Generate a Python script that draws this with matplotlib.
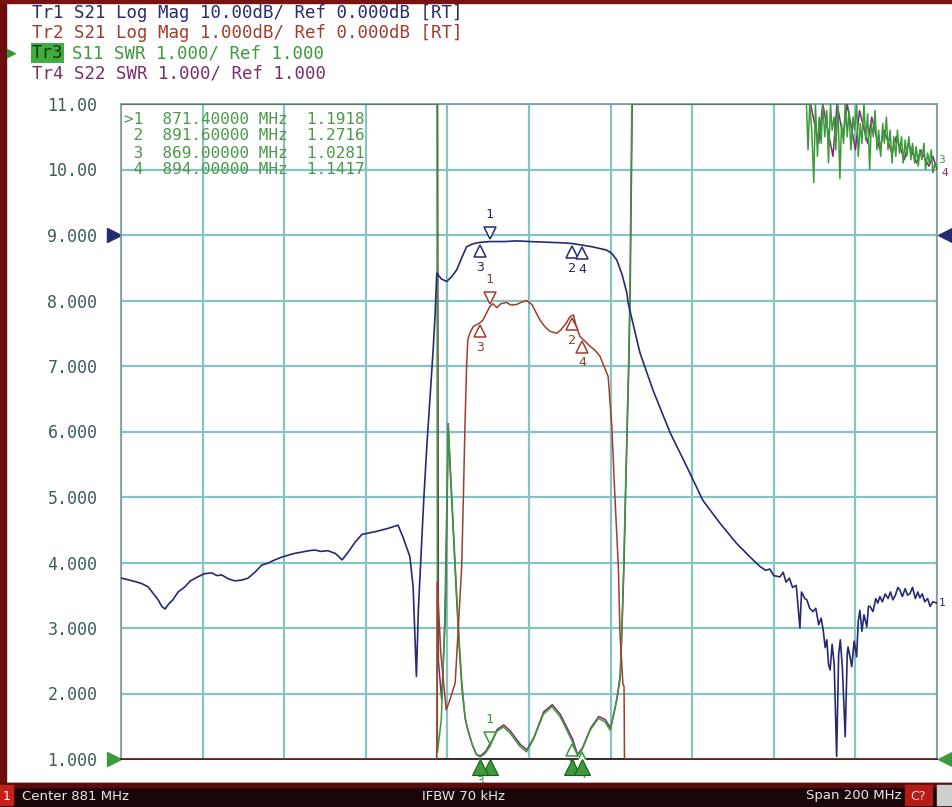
import numpy as np
import matplotlib
matplotlib.use("Agg")
import matplotlib.pyplot as plt
from matplotlib.patches import Rectangle
import matplotlib.transforms as mtransforms

# Stimulus (Center 881 MHz, Span 200 MHz)
f_start, f_stop = 781.0, 981.0

# Tr1 S21 Log Mag, 10 dB/div, Ref 0 dB (ref line at division 9)
tr1_f = [781.2, 782.5, 784.4, 786.0, 787.6, 789.0, 790.1, 791.0, 791.8, 792.6,
         793.7, 795.0, 796.7, 798.0, 799.8, 801.5, 803.3, 804.5, 805.7, 807.3,
         808.9, 810.5, 812.1, 813.8, 815.5, 817.0, 818.7, 820.3, 821.9, 823.6,
         825.4, 827.0, 828.5, 830.0, 831.7, 833.5, 835.2, 836.7, 838.5, 840.1,
         843.3, 846.4, 848.9, 850.1, 851.8, 852.6, 853.4, 853.9, 854.4, 855.2,
         855.9, 856.7, 857.5, 858.0, 858.4, 859.5, 860.8, 862.0, 863.3, 864.5,
         865.7, 867.0, 868.2, 869.5, 871.4, 875.0, 878.0, 881.2, 885.0, 889.3,
         891.6, 893.5, 896.5, 900.0, 901.3, 902.5, 903.8, 905.0, 905.3, 908.2,
         911.4, 915.6, 919.7, 923.6, 927.8, 931.9, 935.9, 937.6, 939.0, 940.0,
         941.0, 942.5, 943.3, 944.0, 944.8, 945.6, 946.5, 947.4, 947.8, 948.6,
         949.1, 949.8, 950.6, 951.3, 952.0, 952.6, 953.1, 953.6, 954.0, 954.4,
         954.8, 955.3, 955.8, 956.4, 956.9, 957.3, 957.8, 958.5, 959.0, 959.2,
         959.7, 960.1, 960.7, 961.3, 961.7, 962.1, 962.6, 963.1, 963.8, 964.2,
         964.6, 965.3, 966.0, 966.5, 967.0, 967.6, 968.3, 969.0, 969.6, 970.2,
         970.8, 971.4, 971.9, 972.5, 973.2, 973.8, 974.4, 975.0, 975.7, 976.3,
         976.8, 977.4, 978.0, 978.7, 979.3, 980.0, 981.0]
tr1_db = [-52.4, -52.6, -52.9, -53.2, -53.7, -54.8, -55.7, -56.7, -57.1, -56.4,
          -55.7, -54.5, -53.7, -52.8, -52.2, -51.7, -51.6, -52.0, -51.9, -52.5,
          -52.8, -52.7, -52.4, -51.5, -50.4, -50.1, -49.6, -49.2, -48.9, -48.6,
          -48.4, -48.2, -48.1, -48.3, -48.2, -48.6, -49.6, -48.4, -46.8, -45.7,
          -45.3, -44.8, -44.3, -46.1, -49.1, -53.7, -67.4, -57.0, -50.6, -40.5,
          -32.8, -25.2, -17.6, -12.0, -5.8, -6.7, -7.1, -6.4, -5.3, -3.5,
          -1.8, -1.4, -1.2, -1.1, -1.0, -1.0, -0.9, -1.0, -1.1, -1.2,
          -1.3, -1.5, -1.8, -2.3, -2.8, -3.8, -6.0, -8.9, -10.4, -18.0,
          -23.7, -30.2, -35.4, -40.5, -44.0, -47.1, -49.6, -50.6, -51.2, -51.0,
          -52.0, -52.2, -51.5, -53.0, -52.4, -53.8, -53.5, -60.0, -54.5, -55.5,
          -55.7, -57.0, -57.5, -57.0, -59.5, -58.5, -60.3, -63.0, -61.8, -65.5,
          -66.4, -62.5, -65.5, -79.6, -64.0, -61.8, -66.0, -76.6, -64.0, -62.9,
          -64.5, -65.9, -62.0, -64.4, -59.0, -57.3, -60.5, -58.0, -59.8, -56.7,
          -56.7, -57.5, -55.5, -56.2, -55.2, -56.0, -54.8, -55.5, -54.5, -55.7,
          -55.0, -53.8, -54.2, -55.2, -54.0, -55.0, -54.7, -53.8, -55.5, -54.5,
          -55.4, -54.8, -56.0, -55.5, -56.7, -56.0, -56.2]

# Tr2 S21 Log Mag, 1 dB/div, Ref 0 dB (ref line at division 9)
tr2_f = [781.0, 858.4, 858.5, 859.4, 860.7, 861.6, 862.9, 863.6, 864.5, 864.9,
         865.3, 865.7, 866.0, 866.5, 867.3, 869.0, 869.7, 870.6, 871.4, 872.2,
         873.1, 874.1, 875.5, 876.6, 878.0, 879.0, 880.4, 881.7, 882.7, 883.7,
         884.9, 886.1, 887.8, 888.8, 890.2, 891.0, 891.9, 892.5, 893.5, 894.7,
         896.0, 897.2, 898.4, 899.1, 900.4, 901.3, 902.1, 902.9, 903.3, 904.0,
         904.3, 904.4, 981.0]
tr2_db = [-8.0, -8.0, -5.3, -6.4, -7.25, -7.1, -6.84, -6.08, -5.06, -4.05,
          -2.93, -2.01, -1.60, -1.50, -1.40, -1.34, -1.30, -1.19, -1.09, -1.05,
          -1.11, -1.05, -1.03, -1.07, -1.06, -1.03, -1.00, -1.06, -1.18, -1.30,
          -1.40, -1.47, -1.50, -1.45, -1.34, -1.25, -1.22, -1.38, -1.55, -1.62,
          -1.70, -1.76, -1.85, -1.96, -2.16, -2.93, -4.05, -5.06, -6.08, -6.84,
          -6.90, -8.0, -8.0]

# Tr3 S11 SWR, 1.000/div, Ref 1.000 (bottom line)
tr3_f = [781.0, 858.45, 858.55, 859.5, 860.3, 860.9, 861.2, 861.6, 862.4, 863.2,
         863.9, 864.5, 865.3, 866.0, 867.0, 868.0, 869.0, 870.2, 871.4, 873.1,
         874.7, 876.3, 878.8, 880.4, 882.1, 884.5, 886.6, 888.6, 890.2, 891.6,
         892.8, 894.0, 896.0, 898.0, 899.6, 900.9, 902.0, 902.5, 903.3, 903.7,
         904.2, 904.6, 905.0, 905.4, 905.7, 906.2, 949.0, 949.4, 949.8, 950.3,
         950.8, 951.2, 951.7, 952.1, 952.6, 953.0, 953.5, 954.0, 954.4, 954.9,
         955.3, 955.8, 956.2, 956.7, 957.2, 957.6, 958.1, 958.5, 959.0, 959.4,
         959.9, 960.4, 960.8, 961.3, 961.7, 962.2, 962.6, 963.1, 963.5, 964.0,
         964.5, 964.9, 965.4, 965.8, 966.3, 966.7, 967.2, 967.7, 968.1, 968.6,
         969.0, 969.5, 970.0, 970.4, 970.9, 971.3, 971.8, 972.3, 972.7, 973.2,
         973.6, 974.1, 974.6, 975.0, 975.5, 975.9, 976.4, 976.8, 977.3, 977.8,
         978.2, 978.7, 979.1, 979.6, 980.0, 980.5, 981.0]
tr3_swr = [11.0, 11.0, 1.1, 1.6, 3.0, 5.0, 6.1, 5.6, 4.6, 3.6,
           2.8, 2.2, 1.65, 1.45, 1.24, 1.08, 1.03, 1.08, 1.19, 1.42,
           1.49, 1.40, 1.19, 1.11, 1.30, 1.68, 1.80, 1.65, 1.45, 1.27,
           1.04, 1.14, 1.44, 1.62, 1.57, 1.44, 1.75, 1.90, 2.2, 2.9,
           3.9, 5.0, 6.0, 7.0, 8.0, 11.0, 11.0, 10.3, 11.0, 10.6,
           9.8, 11.0, 10.2, 10.8, 10.4, 11.0, 10.5, 10.9, 10.1, 11.0,
           10.6, 10.8, 10.3, 11.0, 9.86, 10.7, 10.4, 11.0, 10.5, 10.9,
           10.3, 10.8, 10.6, 11.0, 10.2, 10.7, 10.4, 11.0, 10.45, 10.85,
           10.0, 10.7, 10.5, 10.9, 10.3, 10.6, 10.2, 10.7, 10.4, 10.8,
           10.3, 10.6, 10.1, 10.5, 10.2, 10.6, 10.25, 10.5, 10.1, 10.45,
           10.2, 10.5, 10.15, 10.4, 10.1, 10.35, 10.05, 10.3, 10.15, 10.4,
           10.0, 10.25, 10.1, 10.3, 9.95, 10.1, 10.05]

# Tr4 S22 SWR, 1.000/div, Ref 1.000
tr4_f = [781.0, 858.6, 858.8, 859.6, 860.5, 861.0, 861.2, 861.7, 862.5, 863.3,
         864.0, 864.6, 865.4, 866.2, 867.2, 868.2, 869.2, 870.4, 871.6, 873.2,
         874.8, 876.4, 878.9, 880.5, 882.2, 884.6, 886.7, 888.7, 890.3, 891.7,
         892.9, 894.1, 896.1, 898.1, 899.7, 901.0, 902.1, 902.6, 903.4, 903.8,
         904.3, 904.7, 905.1, 905.5, 905.8, 906.3, 950.0, 952.0, 953.0, 955.5,
         956.5, 958.0, 959.0, 961.0, 962.0, 964.0, 965.0, 967.0, 968.0, 970.0,
         971.0, 973.0, 974.0, 976.0, 977.0, 979.0, 980.0, 981.0]
tr4_swr = [11.0, 11.0, 2.5, 1.9, 3.2, 5.2, 6.12, 5.4, 4.4, 3.4,
           2.6, 2.05, 1.6, 1.4, 1.2, 1.06, 1.05, 1.12, 1.25, 1.45,
           1.52, 1.43, 1.22, 1.14, 1.33, 1.72, 1.83, 1.68, 1.48, 1.30,
           1.07, 1.17, 1.47, 1.65, 1.60, 1.47, 1.78, 1.95, 2.3, 3.0,
           4.0, 5.1, 6.1, 7.1, 8.1, 11.0, 11.0, 10.4, 11.0, 10.2,
           11.0, 10.5, 11.0, 10.3, 10.9, 10.4, 10.8, 10.3, 10.6, 10.25,
           10.5, 10.15, 10.4, 10.1, 10.3, 10.05, 10.2, 10.0]

# markers (Tr3 active)
mk_num = ["1", "2", "3", "4"]
mk_f = [871.4, 891.6, 869.0, 894.0]
mk_swr = [1.1918, 1.2716, 1.0281, 1.1417]

y_ticks = [1, 2, 3, 4, 5, 6, 7, 8, 9, 10, 11]
y_labels = ["1.000", "2.000", "3.000", "4.000", "5.000", "6.000",
            "7.000", "8.000", "9.000", "10.00", "11.00"]

c_tr1 = "#262a72"
c_tr2 = "#a23c2c"
c_tr3 = "#3c9a3c"
c_tr4 = "#7c2e6c"
c_grid = "#86c4c4"
c_lbl = "#3e5c5c"
mono = "DejaVu Sans Mono"


def to_div(vals, ref_pos, ref_val, scale):
    d = ref_pos + (np.asarray(vals, dtype=float) - ref_val) / scale
    return np.clip(d, 1.0, 11.0)


d1 = to_div(tr1_db, 9, 0.0, 10.0)
d2 = to_div(tr2_db, 9, 0.0, 1.0)
d3 = to_div(tr3_swr, 1, 1.0, 1.0)
d4 = to_div(tr4_swr, 1, 1.0, 1.0)

W, H = 952, 807
fig = plt.figure(figsize=(W / 100, H / 100), dpi=100)
fig.patch.set_facecolor("white")
ax = fig.add_axes([121 / W, 1 - 759 / H, 816 / W, 655 / H])
ax.set_xlim(f_start, f_stop)
ax.set_ylim(1, 11)

ax.set_xticks(np.linspace(f_start, f_stop, 11))
ax.set_xticklabels([])
ax.set_yticks(y_ticks)
ax.set_yticklabels(y_labels, family=mono, fontsize=12, color=c_lbl)
ax.tick_params(length=0, pad=17)
ax.grid(True, color=c_grid, lw=1.6)
ax.set_axisbelow(True)
for s in ["left", "right", "top"]:
    ax.spines[s].set_color("#7a9a9a")
    ax.spines[s].set_linewidth(1.2)
ax.spines["bottom"].set_color("#3a2828")
ax.spines["bottom"].set_linewidth(1.4)

ax.plot(tr4_f, d4, color=c_tr4, lw=1.1, zorder=3)
ax.plot(tr3_f, d3, color=c_tr3, lw=1.1, zorder=3)
ax.plot(tr2_f, d2, color=c_tr2, lw=1.1, zorder=4)
ax.plot(tr1_f, d1, color=c_tr1, lw=1.2, zorder=5)

# markers on the traces
up = mtransforms.ScaledTranslation(0, 6 / 72, fig.dpi_scale_trans)
down = mtransforms.ScaledTranslation(0, -6 / 72, fig.dpi_scale_trans)
for f_list, d_vals, col in [(tr1_f, d1, c_tr1), (tr2_f, d2, c_tr2), (tr3_f, d3, c_tr3)]:
    for num, fm in zip(mk_num, mk_f):
        yv = np.interp(fm, f_list, d_vals)
        if num == "1":
            ax.plot(fm, yv, marker="v", ms=9, mfc="white", mec=col, mew=1.1,
                    zorder=6, transform=ax.transData + up)
            ax.annotate(num, (fm, yv), xytext=(0, 15), textcoords="offset points",
                        ha="center", va="bottom", fontsize=9.5, family=mono, color=col, zorder=6)
        else:
            ax.plot(fm, yv, marker="^", ms=9, mfc="white", mec=col, mew=1.1,
                    zorder=6, transform=ax.transData + down)
            ax.annotate(num, (fm, yv), xytext=(0, -13), textcoords="offset points",
                        ha="center", va="top", fontsize=9.5, family=mono, color=col, zorder=6)

# active-trace stimulus markers under the graticule
bx = mtransforms.blended_transform_factory(ax.transData, ax.transAxes)
for fm in mk_f:
    ax.plot(fm, -0.012, marker="^", ms=11, color=c_tr3, mec="#1e5a1e", mew=0.8,
            transform=bx, clip_on=False, zorder=7)

# reference position arrows
by = mtransforms.blended_transform_factory(ax.transAxes, ax.transData)
ax.plot(-0.008, 9, marker=">", ms=10, color=c_tr1, transform=by, clip_on=False)
ax.plot(1.010, 9, marker="<", ms=10, color=c_tr1, transform=by, clip_on=False)
ax.plot(-0.008, 1, marker=">", ms=10, color=c_tr3, transform=by, clip_on=False)
ax.plot(1.010, 1, marker="<", ms=10, color=c_tr3, transform=by, clip_on=False)

# trace-end numbers at the right edge
ax.text(1.002, d1[-1], "1", transform=by, fontsize=8, family=mono, color=c_tr1, va="center")
ax.text(1.002, d3[-1] + 0.1, "3", transform=by, fontsize=8, family=mono, color=c_tr3, va="center")
ax.text(1.006, d3[-1] - 0.1, "4", transform=by, fontsize=8, family=mono, color=c_tr4, va="center")

# marker table
for i, (num, fm, sv) in enumerate(zip(mk_num, mk_f, mk_swr)):
    pre = ">" if i == 0 else " "
    fig.text(124 / W, 1 - (119 + 17 * i) / H,
             f"{pre}{num}  {fm:9.5f} MHz  {sv:.4f}",
             family=mono, fontsize=11.5, color="#4a9a4a", va="center", zorder=10)

# trace header lines
hx = 32 / W
hy = [13, 33, 53, 73]
fig.text(hx, 1 - hy[0] / H, "Tr1 S21 Log Mag 10.00dB/ Ref 0.000dB [RT]",
         family=mono, fontsize=12.5, color=c_tr1, va="center")
fig.text(hx, 1 - hy[1] / H, "Tr2 S21 Log Mag 1.000dB/ Ref 0.000dB [RT]",
         family=mono, fontsize=12.5, color=c_tr2, va="center")
fig.text(hx, 1 - hy[2] / H, "Tr3",
         family=mono, fontsize=12.5, color="#12380f", va="center",
         bbox=dict(boxstyle="square,pad=0.05", fc="#3fae3f", ec="none"))
fig.text(hx + 40 / W, 1 - hy[2] / H, "S11 SWR 1.000/ Ref 1.000",
         family=mono, fontsize=12.5, color=c_tr3, va="center")
fig.text(hx, 1 - hy[3] / H, "Tr4 S22 SWR 1.000/ Ref 1.000",
         family=mono, fontsize=12.5, color=c_tr4, va="center")
fig.text(7 / W, 1 - hy[2] / H, "\u25b6", fontsize=9, color="#2e9a2e", va="center")

# window frame and status bar
fig.patches.append(Rectangle((0, 0), 6 / W, 1, transform=fig.transFigure,
                             color="#6e0d0d", zorder=0))
fig.patches.append(Rectangle((0, 1 - 3 / H), 1, 3 / H, transform=fig.transFigure,
                             color="#7a1212", zorder=0))
fig.patches.append(Rectangle((0, 0), 1, 24 / H, transform=fig.transFigure,
                             color="#1a0707", zorder=1))
fig.patches.append(Rectangle((0, 20 / H), 1, 4 / H, transform=fig.transFigure,
                             color="#5a0c0c", zorder=1))
fig.patches.append(Rectangle((0, 2 / H), 13 / W, 20 / H, transform=fig.transFigure,
                             color="#c82018", zorder=2))
fig.patches.append(Rectangle((905 / W, 2 / H), 27 / W, 20 / H, transform=fig.transFigure,
                             color="#b41c18", zorder=2))
fig.patches.append(Rectangle((937 / W, 2 / H), 15 / W, 20 / H, transform=fig.transFigure,
                             color="#cfcfcf", zorder=2))
sb_y = 11 / H
fig.text(6.5 / W, sb_y, "1", color="white", fontsize=9, ha="center", va="center", zorder=3)
fig.text(22 / W, sb_y, "Center 881 MHz", color="#e8e8e8", fontsize=9.5, va="center", zorder=3)
fig.text(422 / W, sb_y, "IFBW 70 kHz", color="#e8e8e8", fontsize=9.5, va="center", zorder=3)
fig.text(806 / W, sb_y, "Span 200 MHz", color="#e8e8e8", fontsize=9.5, va="center", zorder=3)
fig.text(918 / W, sb_y, "C?", color="#f0d0d0", fontsize=9, ha="center", va="center", zorder=3)

fig.savefig("out.png", dpi=100, facecolor=fig.get_facecolor())
